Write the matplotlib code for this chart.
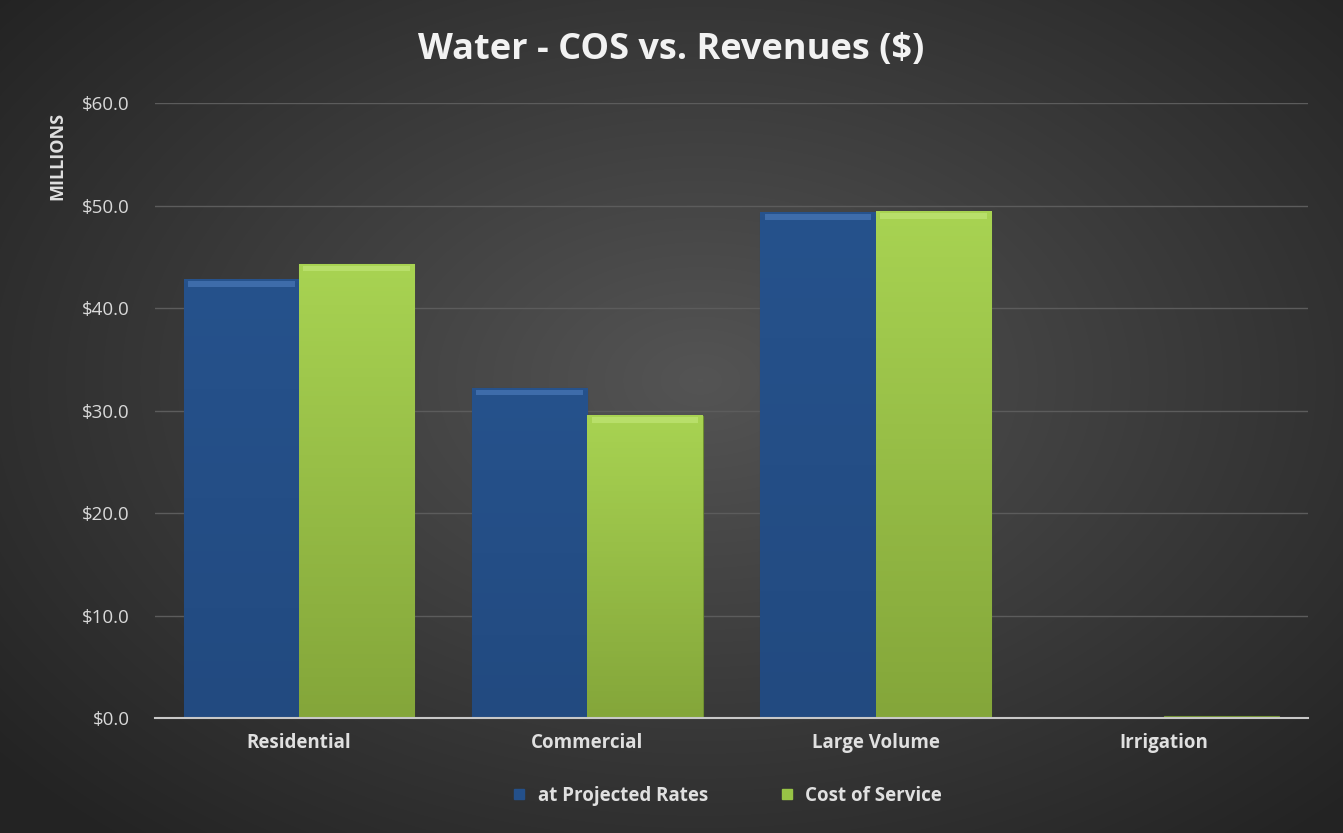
import numpy as np
import matplotlib
matplotlib.use("Agg")
import matplotlib.pyplot as plt
from matplotlib.ticker import FuncFormatter
from matplotlib.lines import Line2D

categories = ["Residential", "Commercial", "Large Volume", "Irrigation"]
projected = [42.8, 32.2, 49.3, 0.05]
cost_of_service = [44.3, 29.5, 49.4, 0.2]
series_names = ["at Projected Rates", "Cost of Service"]
yticks = [0, 10, 20, 30, 40, 50, 60]

plt.rcParams['font.family'] = ['Open Sans', 'DejaVu Sans']

fig = plt.figure(figsize=(13.43, 8.33), dpi=100)

# radial gradient background
bg = fig.add_axes([0, 0, 1, 1], zorder=-10)
yy, xx = np.mgrid[0:833, 0:1343]
cx, cy = 700, 380
r = np.sqrt(((xx - cx) / 900.0) ** 2 + ((yy - cy) / 600.0) ** 2)
v = np.clip(0.33 - 0.19 * r, 0.14, 0.33)
img = np.dstack([v, v, v])
bg.imshow(img, aspect='auto', extent=[0, 1, 0, 1])
bg.axis('off')

ax = fig.add_axes([0.1154, 0.138, 0.8586, 0.738])
ax.set_facecolor('none')
x = np.arange(len(categories))
w = 0.4

blue = '#24508A'
green = '#98C446'
b1 = ax.bar(x - w / 2, projected, w, color=blue, edgecolor='#1a3a63', linewidth=0.8, zorder=3)
b2 = ax.bar(x + w / 2, cost_of_service, w, color=green, edgecolor='#6f8f30', linewidth=0.8, zorder=3)

# bevel highlight / gradient shading
for bars, top_c, bot_c, hl in [(b1, '#26528c', '#224a80', '#4f7fbf'), (b2, '#a8d352', '#84a63a', '#c4e87c')]:
    for rect in bars:
        xx0, hh, ww = rect.get_x(), rect.get_height(), rect.get_width()
        if hh < 1:
            continue
        grad = np.linspace(1, 0, 100).reshape(-1, 1)
        c1 = np.array(matplotlib.colors.to_rgb(top_c))
        c2 = np.array(matplotlib.colors.to_rgb(bot_c))
        g = grad[..., None] * c1 + (1 - grad[..., None]) * c2
        ax.imshow(g, extent=[xx0, xx0 + ww, 0, hh], aspect='auto', zorder=3.5)
        ax.fill_between([xx0 + 0.015, xx0 + ww - 0.015], hh - 0.7, hh - 0.15, color=hl, alpha=0.6, zorder=4, linewidth=0)

ax.set_xlim(-0.5, len(categories) - 0.5)
ax.set_ylim(0, 60)
ax.set_yticks(yticks)
ax.yaxis.set_major_formatter(FuncFormatter(lambda v, p: f"${v:.1f}"))
ax.set_xticks(x)
ax.set_xticklabels(categories, fontsize=13.5, fontweight='bold', color='#e0e0e0')
ax.tick_params(axis='y', labelsize=13.5, colors='#d9d9d9', length=0, pad=18)
ax.tick_params(axis='x', length=0, pad=11)
ax.grid(axis='y', color='#5c5c5c', linewidth=1, zorder=0)
ax.set_axisbelow(True)
for s in ['top', 'right', 'left']:
    ax.spines[s].set_visible(False)
ax.spines['bottom'].set_color('#c8c8c8')
ax.spines['bottom'].set_linewidth(1.5)
ax.spines['bottom'].set_zorder(5)

ax.set_ylabel("MILLIONS", fontsize=13, fontweight='bold', color='#e0e0e0')
ax.yaxis.set_label_coords(-0.077, 0.915)

fig.text(0.5, 0.94, "Water - COS vs. Revenues ($)", ha='center', va='center',
         fontsize=26, fontweight='bold', color='#f2f2f2')

handles = [Line2D([], [], marker='s', linestyle='none', markersize=7, markerfacecolor=blue, markeredgecolor=blue),
           Line2D([], [], marker='s', linestyle='none', markersize=7, markerfacecolor=green, markeredgecolor=green)]
leg = fig.legend(handles, series_names, loc='center', bbox_to_anchor=(0.537, 0.045), ncol=2,
                 frameon=False, fontsize=13.5, handletextpad=0.0, columnspacing=3.2)
for t in leg.get_texts():
    t.set_color('#e0e0e0')
    t.set_fontweight('bold')

fig.savefig("out.png", dpi=100, facecolor='#2a2a2a')
